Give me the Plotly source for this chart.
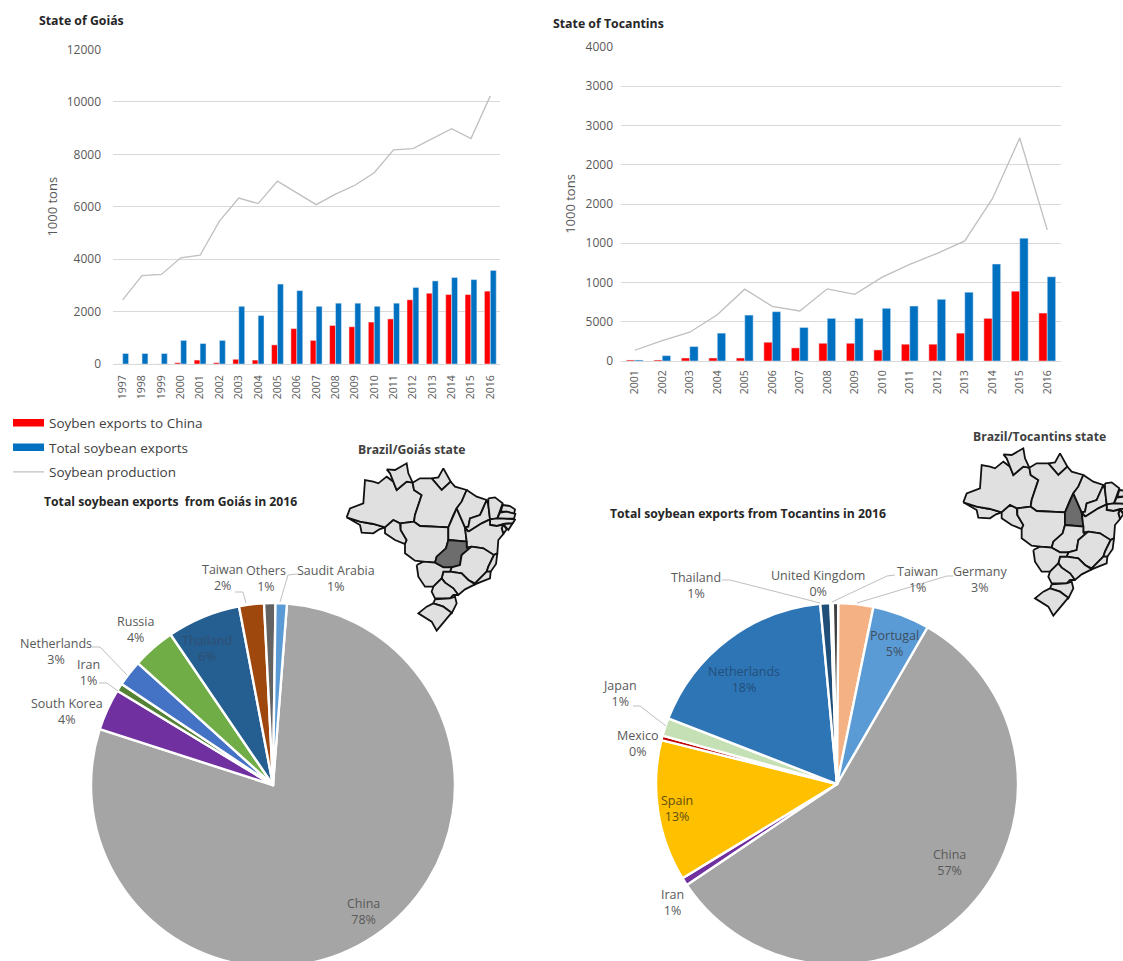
import plotly.graph_objects as go

W, H = 1123, 975

# ---------- data ----------
years_go = [str(y) for y in range(1997, 2017)]
china_go = [0, 0, 0, 50, 150, 50, 180, 150, 730, 1350, 900, 1470, 1420, 1600, 1720, 2450, 2700, 2650, 2650, 2780]
total_go = [400, 400, 400, 900, 780, 900, 2200, 1850, 3050, 2800, 2200, 2320, 2320, 2200, 2320, 2920, 3170, 3300, 3220, 3570]
prod_go = [2450, 3370, 3420, 4050, 4150, 5450, 6330, 6120, 6980, 6530, 6080, 6480, 6820, 7300, 8170, 8220, 8600, 8980, 8600, 10230]

years_to = [str(y) for y in range(2001, 2017)]
china_to = [13, 13, 38, 38, 38, 239, 167, 226, 226, 141, 214, 214, 355, 543, 889, 611]
total_to = [13, 68, 184, 355, 585, 628, 427, 543, 543, 671, 700, 786, 876, 1235, 1564, 1073]
prod_to = [137, 260, 367, 590, 915, 697, 637, 919, 850, 1068, 1230, 1372, 1530, 2064, 2841, 1670]
ticks_to = [0, 500, 1000, 1500, 2000, 2500, 3000, 3500, 4000]
ticktext_to = ["0", "5000", "1000", "1000", "2000", "2000", "3000", "3000", "4000"]
ticks_go = [0, 2000, 4000, 6000, 8000, 10000, 12000]
ticktext_go = ["0", "2000", "4000", "6000", "8000", "10000", "12000"]

pie_go_labels = ["China", "South Korea", "Iran", "Netherlands", "Russia", "Thailand", "Taiwan", "Others", "Saudit Arabia"]
pie_go_values = [78.5, 3.7, 0.7, 2.3, 3.8, 6.5, 2.2, 1.0, 1.0]
pie_go_shown = ["78%", "4%", "1%", "3%", "4%", "6%", "2%", "1%", "1%"]
pie_to_labels = ["China", "Iran", "Spain", "Mexico", "Japan", "Netherlands", "Thailand", "United Kingdom", "Taiwan", "Germany", "Portugal"]
pie_to_values = [57.2, 0.7, 12.6, 0.4, 1.6, 17.6, 0.9, 0.2, 0.5, 3.1, 5.1]
pie_to_shown = ["57%", "1%", "13%", "0%", "1%", "18%", "1%", "0%", "1%", "3%", "5%"]

# ---------- styles ----------
RED, BLUE, GREY = "#FF0000", "#0070C0", "#BFBFBF"
GRID = "#D9D9D9"
TXT = "#595959"
FONT = "Open Sans"
pie_go_colors = ["#A5A5A5", "#7030A0", "#548235", "#4472C4", "#70AD47", "#255E91", "#9E480E", "#636363", "#5B9BD5"]
pie_to_colors = ["#A5A5A5", "#7030A0", "#FFC000", "#C00000", "#C5E0B4", "#2E75B6", "#1F4E79", "#FFFFFF", "#404040", "#F4B183", "#5B9BD5"]
pie_go_text_pos = [(363, 911), (67, 711), (88, 672), (56, 651), (135, 629), (207, 648), (222, 577), (266, 578), (336, 578)]
pie_to_text_pos = [(949, 862), (672, 902), (677, 808), (637, 743), (620, 693), (744, 679), (696, 585), (818, 583), (917, 579), (980, 579), (894, 643)]


def px(x):
    return x / W


def py(y):
    return 1 - y / H


# Brazilian state outlines, traced on a 570 x 600 drawing grid
STATES = {
    "AC": [(20, 232), (60, 245), (100, 252), (135, 262), (118, 268), (100, 280), (65, 278), (60, 255)],
    "AM": [(20, 232), (30, 205), (70, 190), (75, 120), (100, 125), (115, 130), (140, 110), (160, 125), (170, 150), (200, 125),
           (218, 128), (222, 150), (245, 165), (225, 225), (222, 245), (180, 250), (160, 240), (135, 262), (100, 252), (60, 245)],
    "RR": [(140, 88), (165, 90), (200, 70), (205, 100), (218, 128), (200, 125), (170, 150), (160, 125), (150, 100)],
    "AP": [(275, 115), (295, 112), (310, 85), (320, 105), (332, 125), (305, 150)],
    "PA": [(218, 128), (240, 115), (275, 115), (305, 150), (332, 125), (345, 140), (380, 150), (365, 185), (350, 205), (340, 225),
           (325, 262), (240, 258), (222, 245), (225, 225), (245, 165), (222, 150)],
    "RO": [(135, 262), (160, 240), (180, 250), (182, 270), (200, 300), (195, 312), (165, 300), (135, 280)],
    "MT": [(182, 250), (222, 245), (240, 258), (325, 262), (325, 300), (318, 325), (290, 350), (285, 368), (250, 365), (225, 362),
           (195, 340), (195, 312), (200, 300), (182, 270)],
    "TO": [(350, 205), (365, 240), (375, 262), (380, 305), (325, 300), (325, 262), (340, 225)],
    "MA": [(380, 150), (410, 170), (440, 180), (425, 215), (420, 225), (390, 235), (385, 260), (375, 262), (365, 240), (350, 205), (365, 185)],
    "PI": [(440, 180), (445, 195), (450, 238), (425, 250), (385, 275), (375, 262), (385, 260), (390, 235), (420, 225), (425, 215)],
    "CE": [(445, 175), (465, 172), (488, 190), (480, 215), (472, 235), (450, 238), (445, 195)],
    "RN": [(488, 195), (510, 198), (525, 208), (522, 222), (500, 215), (482, 215)],
    "PB": [(480, 218), (500, 215), (526, 222), (522, 236), (490, 236), (472, 235)],
    "PE": [(450, 238), (472, 235), (490, 236), (526, 238), (518, 250), (490, 252), (470, 258), (450, 255)],
    "AL": [(490, 252), (518, 250), (505, 270)],
    "SE": [(490, 254), (500, 268), (490, 282), (485, 265)],
    "BA": [(385, 275), (425, 250), (450, 238), (450, 255), (470, 258), (490, 254), (485, 265), (490, 282), (475, 300), (472, 340),
           (460, 345), (430, 325), (395, 320), (380, 322), (380, 305), (375, 262)],
    "GO": [(325, 300), (380, 305), (380, 322), (385, 328), (365, 345), (360, 375), (335, 382), (310, 382), (285, 368), (290, 350), (318, 325)],
    "MG": [(385, 328), (395, 320), (430, 325), (460, 345), (462, 345), (445, 380), (440, 395), (405, 430), (385, 420), (365, 400),
           (330, 395), (335, 382), (360, 375), (365, 345)],
    "ES": [(462, 345), (472, 340), (468, 372), (452, 395), (440, 395), (445, 380)],
    "RJ": [(405, 430), (440, 395), (452, 395), (450, 415), (425, 425), (405, 433)],
    "SP": [(330, 395), (365, 400), (385, 420), (405, 433), (375, 448), (355, 465), (340, 445), (315, 428), (305, 415), (310, 395)],
    "MS": [(230, 375), (250, 365), (285, 368), (310, 382), (335, 382), (330, 395), (310, 395), (305, 415), (280, 440), (255, 440), (235, 410)],
    "PR": [(280, 440), (305, 415), (315, 428), (340, 445), (355, 465), (340, 465), (330, 475), (285, 475), (275, 455)],
    "SC": [(285, 478), (330, 475), (345, 470), (350, 490), (335, 520), (310, 500), (280, 490)],
    "RS": [(280, 490), (310, 500), (335, 518), (310, 550), (290, 572), (275, 545), (235, 520), (260, 500)],
}

fig = go.Figure()


def bars(x, china, total, prod, xa, ya):
    fig.add_bar(x=x, y=china, marker_color=RED, xaxis=xa, yaxis=ya, name="Soyben exports to China", showlegend=False)
    fig.add_bar(x=x, y=total, marker_color=BLUE, xaxis=xa, yaxis=ya, name="Total soybean exports", showlegend=False)
    fig.add_scatter(x=x, y=prod, mode="lines", line=dict(color=GREY, width=1.3), xaxis=xa, yaxis=ya,
                    name="Soybean production", showlegend=False)


bars(years_go, china_go, total_go, prod_go, "x", "y")
bars(years_to, china_to, total_to, prod_to, "x2", "y2")

# legend entries
for name, col, wd in [("Soyben exports to China", RED, 7.5), ("Total soybean exports", BLUE, 7.5), ("Soybean production", GREY, 1.3)]:
    fig.add_scatter(x=[None], y=[None], mode="lines", line=dict(color=col, width=wd), name=name, legendgroup=name,
                    xaxis="x", yaxis="y", showlegend=True)


def pie(labels, values, colors, rot, cx, cy, r):
    fig.add_pie(labels=labels, values=values, marker=dict(colors=colors, line=dict(color="white", width=2.4)),
                sort=False, direction="clockwise", rotation=rot, textinfo="none", showlegend=False,
                domain=dict(x=[px(cx - r), px(cx + r)], y=[max(0, py(cy + r)), py(cy - r)]))


pie(pie_go_labels, pie_go_values, pie_go_colors, 4.4, 273, 785, 182)
pie(pie_to_labels, pie_to_values, pie_to_colors, 30, 837, 784, 181)


def brazil(xa, ya, hi):
    for code, pts in STATES.items():
        fig.add_scatter(x=[p[0] for p in pts] + [pts[0][0]], y=[p[1] for p in pts] + [pts[0][1]],
                        mode="lines", fill="toself",
                        fillcolor="#6D6D6D" if code == hi else "#E0E0E0",
                        line=dict(color="#111111", width=1.8), xaxis=xa, yaxis=ya, hoverinfo="skip", showlegend=False)


brazil("x3", "y3", "GO")
brazil("x4", "y4", "TO")

annots = []


def text(x, y, s, size=11.5, color=TXT, bold=False, align="center"):
    annots.append(dict(x=px(x), y=py(y), xref="paper", yref="paper", text=f"<b>{s}</b>" if bold else s, showarrow=False,
                       xanchor=align, yanchor="middle", align=align, font=dict(family=FONT, size=size, color=color)))


text(37, 21, "State of Goiás", 12.3, "#262626", True, "left")
text(551, 23, "State of Tocantins", 12.3, "#262626", True, "left")
text(411, 449, "Brazil/Goiás state", 12.2, "#404040", True)
text(1039, 436, "Brazil/Tocantins state", 12.2, "#404040", True)
text(42, 501, "Total soybean exports  from Goiás in 2016", 12.2, "#262626", True, "left")
text(608, 513, "Total soybean exports from Tocantins in 2016", 12.2, "#262626", True, "left")

inside = {"Thailand": "#2F4F70", "Netherlands": "#234F7A", "Portugal": "#3F4F60", "Spain": "#5F4F10"}
for labs, shown, pos, in_set in [(pie_go_labels, pie_go_shown, pie_go_text_pos, {"Thailand"}),
                                 (pie_to_labels, pie_to_shown, pie_to_text_pos, {"Netherlands", "Portugal", "Spain"})]:
    for lab, pct, (tx, ty) in zip(labs, shown, pos):
        col = inside[lab] if lab in in_set else TXT
        annots.append(dict(x=px(tx), y=py(ty), xref="paper", yref="paper", text=f"{lab}<br>{pct}", showarrow=False,
                           xanchor="center", yanchor="middle", align="center",
                           font=dict(family=FONT, size=12.5, color=col)))

leaders = [
    [(280, 602), (288, 575), (297, 574)],
    [(246, 603), (243, 592), (235, 592)],
    [(127, 675), (100, 647), (92, 647)],
    [(118, 691), (107, 683), (99, 683)],
    [(722, 580), (730, 580), (820, 603)],
    [(895, 575), (887, 576), (832, 602)],
    [(953, 576), (947, 576), (857, 603)],
    [(633, 706), (640, 706), (666, 726)],
]
shapes = []
for seg in leaders:
    path = "M" + " L".join(f"{px(a):.5f},{py(b):.5f}" for a, b in seg)
    shapes.append(dict(type="path", xref="paper", yref="paper", path=path, line=dict(color="#BFBFBF", width=1)))

axis_common = dict(showgrid=False, zeroline=False, showline=True, linecolor=GRID, linewidth=1, ticks="", type="category",
                   tickangle=-90, tickfont=dict(family=FONT, size=10.5, color=TXT))
yaxis_common = dict(showgrid=True, gridcolor=GRID, gridwidth=1, zeroline=False, showline=False, ticks="",
                    tickfont=dict(family=FONT, size=12, color=TXT))
hidden = dict(visible=False, fixedrange=True)

fig.update_layout(
    width=W, height=H, margin=dict(l=0, r=0, t=0, b=0, autoexpand=False), autosize=False,
    paper_bgcolor="white", plot_bgcolor="white",
    barmode="group", bargap=0.39, bargroupgap=0,
    hovermode="closest",
    legend=dict(x=px(8), y=py(407.5), xanchor="left", yanchor="top", tracegroupgap=4, bgcolor="rgba(0,0,0,0)", itemwidth=31,
                font=dict(family=FONT, size=13.5, color="#404040"), itemclick=False, itemdoubleclick=False),
    xaxis=dict(domain=[px(113), px(500)], categoryorder="array", categoryarray=years_go, range=[-0.5, 19.5], anchor="y",
               ticklabelstandoff=6, **axis_common),
    yaxis=dict(domain=[py(364), py(49.5)], range=[0, 12000], tickvals=ticks_go, ticktext=ticktext_go, anchor="x", ticklabelstandoff=11,
               title=dict(text="1000 tons", standoff=6, font=dict(family=FONT, size=13, color=TXT)), **yaxis_common),
    xaxis2=dict(domain=[px(621), px(1061)], categoryorder="array", categoryarray=years_to, range=[-0.5, 15.5], anchor="y2",
                ticklabelstandoff=4, **axis_common),
    yaxis2=dict(domain=[py(361), py(47)], range=[0, 4000], tickvals=ticks_to, ticktext=ticktext_to, anchor="x2", ticklabelstandoff=7,
                title=dict(text="1000 tons", standoff=6, font=dict(family=FONT, size=13, color=TXT)), **yaxis_common),
    xaxis3=dict(domain=[px(340), px(530)], range=[0, 570], anchor="y3", **hidden),
    yaxis3=dict(domain=[py(640), py(440)], range=[600, 0], anchor="x3", **hidden),
    xaxis4=dict(domain=[px(950), 1], range=[-20, 499], anchor="y4", **hidden),
    yaxis4=dict(domain=[py(620), py(420)], range=[585, -15], anchor="x4", **hidden),
    annotations=annots, shapes=shapes,
)

fig.write_html("out.html", config=dict(displayModeBar=False),
               post_script="document.body.style.margin='0';document.documentElement.style.overflow='hidden';document.body.style.overflow='hidden';")
